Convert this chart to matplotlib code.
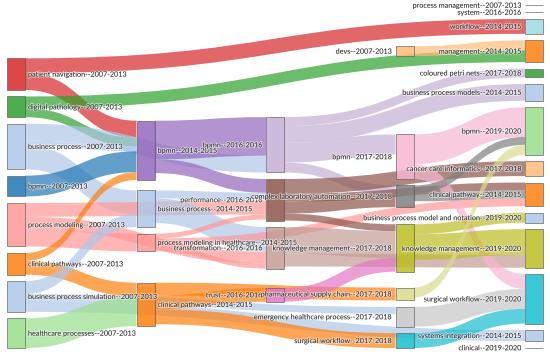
import matplotlib
matplotlib.use("Agg")
import matplotlib.pyplot as plt
import matplotlib.patheffects as pe
from matplotlib.patches import PathPatch, Rectangle
from matplotlib.path import Path

plt.rcParams['font.family'] = ['Lato', 'DejaVu Sans']

# nodes: label, column, colour
node_labels = [
    "patient navigation--2007-2013", "digital pathology--2007-2013",
    "business process--2007-2013", "bpmn--2007-2013",
    "process modeling--2007-2013", "clinical pathways--2007-2013",
    "business process simulation--2007-2013", "healthcare processes--2007-2013",
    "bpmn--2014-2015", "business process--2014-2015",
    "process modeling in healthcare--2014-2015", "clinical pathways--2014-2015",
    "bpmn--2016-2016", "performance--2016-2016",
    "transformation--2016-2016", "trust--2016-2016",
    "devs--2007-2013", "bpmn--2017-2018",
    "complex laboratory automation--2017-2018", "knowledge management--2017-2018",
    "pharmaceutical supply chain--2017-2018", "emergency healthcare process--2017-2018",
    "surgical workflow--2017-2018",
    "process management--2007-2013", "system--2016-2016",
    "workflow--2014-2015", "management--2014-2015",
    "coloured petri nets--2017-2018", "business process models--2014-2015",
    "bpmn--2019-2020", "cancer care informatics--2017-2018",
    "clinical pathway--2014-2015", "business process model and notation--2019-2020",
    "knowledge management--2019-2020", "surgical workflow--2019-2020",
    "systems integration--2014-2015", "clinical--2019-2020",
]
node_columns = [0] * 8 + [1] * 4 + [2] * 4 + [3] * 7 + [4] * 14
node_colors = [
    "#d62728", "#2ca02c", "#aec7e8", "#1f77b4", "#ff9896", "#ff7f0e", "#aec7e8", "#98df8a",
    "#9467bd", "#aec7e8", "#ff9896", "#ff7f0e",
    "#c5b0d5", "#8c564b", "#c49c94", "#e377c2",
    "#ffbb78", "#f7b6d2", "#7f7f7f", "#bcbd22", "#dbdb8d", "#c7c7c7", "#17becf",
    "#1f77b4", "#c5b0d5", "#9edae5", "#ff7f0e", "#2ca02c", "#aec7e8", "#98df8a",
    "#ffbb78", "#ff7f0e", "#aec7e8", "#bcbd22", "#17becf", "#aec7e8", "#98df8a",
]
isolated_value = 0.5

# links: source index, target index, value
link_source = [0, 0, 1, 1, 2, 2, 2, 3, 4, 4, 4, 5, 5, 6, 6, 6, 7,
               8, 8, 9, 9, 10, 10, 10, 11, 11, 11,
               12, 12, 12, 12, 13, 13, 13, 13, 14, 14, 15,
               16, 17, 17, 18, 18, 19, 19, 20, 21, 22]
link_target = [25, 8, 26, 8, 12, 8, 9, 8, 10, 13, 14, 8, 11, 9, 35, 21, 11,
               12, 13, 14, 13, 31, 13, 14, 15, 20, 22,
               28, 27, 17, 18, 30, 18, 31, 19, 19, 33, 19,
               26, 29, 34, 29, 31, 32, 33, 29, 34, 34]
link_value = [15, 17, 12, 9, 17, 5, 24, 21, 18, 14, 12, 8, 14, 13, 11, 7, 30,
              39, 14, 25, 8, 8, 5, 5, 14, 13, 15,
              17, 9, 20, 10, 15, 12, 8, 7, 27, 13, 14,
              10, 30, 15, 8, 8, 10, 26, 10, 20, 15]

W, H = 550, 360
X0, X1, NW = 7, 543, 18
Y0, Y1, PY = 5, 348, 6.5

n = len(node_labels)
ncol = max(node_columns) + 1
src_links = [[] for _ in range(n)]
tgt_links = [[] for _ in range(n)]
for k, (s, t) in enumerate(zip(link_source, link_target)):
    src_links[s].append(k)
    tgt_links[t].append(k)

value = []
for i in range(n):
    vin = sum(link_value[k] for k in tgt_links[i])
    vout = sum(link_value[k] for k in src_links[i])
    value.append(max(vin, vout) if (vin or vout) else isolated_value)

columns = [[i for i in range(n) if node_columns[i] == c] for c in range(ncol)]
xpos = [X0 + node_columns[i] * (X1 - X0 - NW) / (ncol - 1) for i in range(n)]

# sankey layout (relaxation on weighted node centres, nodes keep their order)
ky = min((Y1 - Y0 - (len(c) - 1) * PY) / sum(value[i] for i in c) for c in columns)
lw = [v * ky for v in link_value]
top = [0.0] * n
bot = [0.0] * n
for c in columns:
    for j, i in enumerate(c):
        top[i] = j
        bot[i] = j + value[i] * ky


def centre(i):
    return (top[i] + bot[i]) / 2


def resolve():
    for c in columns:
        y = Y0
        for i in c:
            dy = y - top[i]
            if dy > 0:
                top[i] += dy
                bot[i] += dy
            y = bot[i] + PY
        dy = y - PY - Y1
        if dy > 0:
            last = c[-1]
            top[last] -= dy
            bot[last] -= dy
            y = top[last]
            for i in reversed(c[:-1]):
                dy = bot[i] + PY - y
                if dy > 0:
                    top[i] -= dy
                    bot[i] -= dy
                y = top[i]


resolve()
alpha = 1.0
for it in range(50):
    alpha *= 0.99
    for c in reversed(columns):
        for i in c:
            if src_links[i]:
                ys = sum(centre(link_target[k]) * link_value[k] for k in src_links[i])
                ws = sum(link_value[k] for k in src_links[i])
                dy = (ys / ws - centre(i)) * alpha
                top[i] += dy
                bot[i] += dy
    resolve()
    for c in columns:
        for i in c:
            if tgt_links[i]:
                ys = sum(centre(link_source[k]) * link_value[k] for k in tgt_links[i])
                ws = sum(link_value[k] for k in tgt_links[i])
                dy = (ys / ws - centre(i)) * alpha
                top[i] += dy
                bot[i] += dy
    resolve()

# link breadths
for i in range(n):
    src_links[i].sort(key=lambda k: (top[link_target[k]], k))
    tgt_links[i].sort(key=lambda k: (top[link_source[k]], k))
ly_src = [0.0] * len(link_value)
ly_tgt = [0.0] * len(link_value)
for i in range(n):
    y = top[i]
    for k in src_links[i]:
        ly_src[k] = y
        y += lw[k]
    y = top[i]
    for k in tgt_links[i]:
        ly_tgt[k] = y
        y += lw[k]

fig = plt.figure(figsize=(W / 100, H / 100), dpi=100)
ax = fig.add_axes([0, 0, 1, 1])
ax.set_xlim(0, W)
ax.set_ylim(H, 0)
ax.axis('off')

for k in range(len(link_value)):
    s, t = link_source[k], link_target[k]
    xa = xpos[s] + NW
    xb = xpos[t]
    xm = (xa + xb) / 2
    ya, yb, w = ly_src[k], ly_tgt[k], lw[k]
    verts = [(xa, ya), (xm, ya), (xm, yb), (xb, yb),
             (xb, yb + w), (xm, yb + w), (xm, ya + w), (xa, ya + w), (xa, ya)]
    codes = [Path.MOVETO, Path.CURVE4, Path.CURVE4, Path.CURVE4,
             Path.LINETO, Path.CURVE4, Path.CURVE4, Path.CURVE4, Path.CLOSEPOLY]
    ax.add_patch(PathPatch(Path(verts, codes), facecolor=node_colors[s],
                           edgecolor='none', alpha=0.7))

for i in range(n):
    ax.add_patch(Rectangle((xpos[i], top[i]), NW, bot[i] - top[i],
                           facecolor=node_colors[i], alpha=0.85,
                           edgecolor='#555555', linewidth=0.5))
    yc = centre(i)
    if xpos[i] + NW / 2 < W / 2:
        tx, ha = xpos[i] + NW + 3, 'left'
    else:
        tx, ha = xpos[i] - 3, 'right'
    ax.text(tx, yc, node_labels[i], ha=ha, va='center', fontsize=5.2,
            color='#2a2a2a',
            path_effects=[pe.withStroke(linewidth=1.2, foreground='white', alpha=0.6)])

fig.savefig('out.png', dpi=100)
